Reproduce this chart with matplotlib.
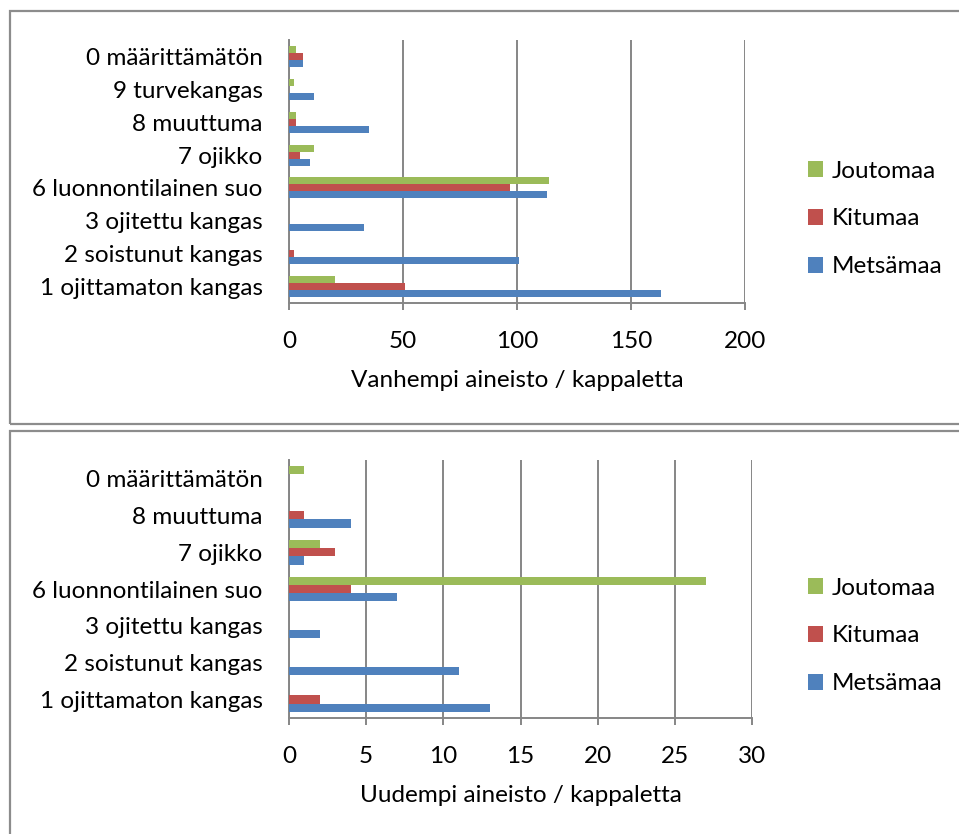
import matplotlib
matplotlib.use("Agg")
import numpy as np
import matplotlib.pyplot as plt
from matplotlib.patches import Rectangle

# ------------------------------------------------------------
# Site type counts, older and newer material (horizontal bars)
# ------------------------------------------------------------
OLD_CATEGORIES = [
    "1 ojittamaton kangas", "2 soistunut kangas", "3 ojitettu kangas",
    "6 luonnontilainen suo", "7 ojikko", "8 muuttuma", "9 turvekangas",
    "0 määrittämätön",
]
OLD_METSAMAA = [163, 101, 33, 113, 9, 35, 11, 6]
OLD_KITUMAA = [51, 2, 0, 97, 5, 3, 0, 6]
OLD_JOUTOMAA = [20, 0, 0, 114, 11, 3, 2, 3]
OLD_TICKS = [0, 50, 100, 150, 200]

NEW_CATEGORIES = [
    "1 ojittamaton kangas", "2 soistunut kangas", "3 ojitettu kangas",
    "6 luonnontilainen suo", "7 ojikko", "8 muuttuma", "0 määrittämätön",
]
NEW_METSAMAA = [13, 11, 2, 7, 1, 4, 0]
NEW_KITUMAA = [2, 0, 0, 4, 3, 1, 0]
NEW_JOUTOMAA = [0, 0, 0, 27, 2, 0, 1]
NEW_TICKS = [0, 5, 10, 15, 20, 25, 30]

SERIES_LABELS = ["Metsämaa", "Kitumaa", "Joutomaa"]
COLORS = ["#4F81BD", "#C0504D", "#9BBB59"]
GRID_COLOR = "#868686"
FONT = ["Lato", "DejaVu Sans"]
FS = 17.5

W, H = 959, 834
plt.rcParams["font.family"] = FONT


def fig_box(x0, y0, x1, y1):
    # pixel box (top-left origin) -> figure fraction [left, bottom, width, height]
    return [x0 / W, 1 - y1 / H, (x1 - x0) / W, (y1 - y0) / H]


def draw_panel(fig, rect, cats, series, ticks, xlabel, bar_h, legend_y):
    ax = fig.add_axes(rect)
    y = np.arange(len(cats))
    offsets = [-bar_h, 0.0, bar_h]
    handles = []
    for vals, off, col, lab in zip(series, offsets, COLORS, SERIES_LABELS):
        b = ax.barh(y + off, vals, height=bar_h, color=col, label=lab,
                    linewidth=0, zorder=3)
        handles.append(b)

    ax.set_xlim(ticks[0], ticks[-1])
    ax.set_ylim(-0.5, len(cats) - 0.5)
    ax.set_xticks(ticks)
    ax.set_yticks(y)
    ax.set_yticklabels(cats)
    ax.xaxis.grid(True, color=GRID_COLOR, linewidth=1.4, zorder=1)
    ax.set_axisbelow(True)

    for s in ["top", "right"]:
        ax.spines[s].set_visible(False)
    for s in ["left", "bottom"]:
        ax.spines[s].set_color(GRID_COLOR)
        ax.spines[s].set_linewidth(1.4)

    ax.tick_params(axis="x", direction="out", length=5, width=1.4,
                   color=GRID_COLOR, labelsize=FS, pad=15)
    ax.tick_params(axis="y", length=0, labelsize=FS, pad=19)
    ax.set_xlabel(xlabel, fontsize=FS, labelpad=13)

    # legend order top to bottom: Joutomaa, Kitumaa, Metsämaa
    ax.legend(handles[::-1], SERIES_LABELS[::-1], loc="center left",
              bbox_to_anchor=(808 / W, 1 - legend_y / H),
              bbox_transform=fig.transFigure, frameon=False, fontsize=FS,
              borderpad=0, borderaxespad=0, handlelength=0.62,
              handleheight=0.62, handletextpad=0.35, labelspacing=1.1)
    return ax


fig = plt.figure(figsize=(W / 100, H / 100), dpi=100)

# outer chart frames (cut at the right and bottom edge like the source)
for (x0, y0, x1, y1) in [(10, 11, 1000, 424), (10, 431, 1000, 900)]:
    fig.add_artist(Rectangle((x0 / W, 1 - y1 / H), (x1 - x0) / W, (y1 - y0) / H,
                             transform=fig.transFigure, fill=False,
                             edgecolor="#8c8c8c", linewidth=1.6, clip_on=False))

draw_panel(fig, fig_box(289, 40, 745, 303), OLD_CATEGORIES,
           [OLD_METSAMAA, OLD_KITUMAA, OLD_JOUTOMAA], OLD_TICKS,
           "Vanhempi aineisto / kappaletta", 0.213, 219)

draw_panel(fig, fig_box(289, 460, 752, 718), NEW_CATEGORIES,
           [NEW_METSAMAA, NEW_KITUMAA, NEW_JOUTOMAA], NEW_TICKS,
           "Uudempi aineisto / kappaletta", 0.225, 636)

fig.savefig("out.png", dpi=100)
